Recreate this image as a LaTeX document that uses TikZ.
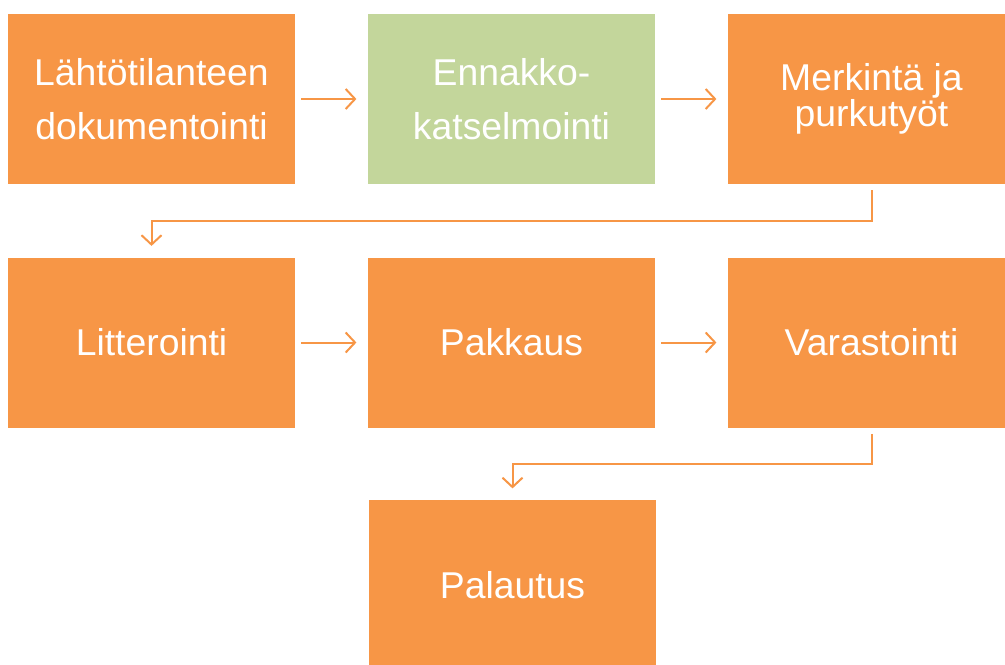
\documentclass[tikz,border=0pt]{standalone}
\usepackage{fontspec}
\setmainfont{Liberation Sans}
\usetikzlibrary{arrows.meta}
\definecolor{stepor}{HTML}{F79646}
\definecolor{stepgr}{HTML}{C3D69B}
\begin{document}
\begin{tikzpicture}[x=0.75pt,y=-0.75pt,
  stepbox/.style={fill=stepor,text=white,minimum width=215.25pt,minimum height=127.5pt,
    inner sep=0pt,align=center,font=\fontsize{28}{41}\selectfont},
  conn/.style={draw=stepor,line width=1.5pt,-{Straight Barb[length=7pt,width=15pt]},
    shorten <=4.5pt,shorten >=8.5pt}]
\useasboundingbox (0,0) rectangle (1005,664);
\clip (0,0) rectangle (1005,664);
% row 1
\node[stepbox] (b1) at (151.5,99) {Lähtötilanteen\\dokumentointi};
\node[stepbox,fill=stepgr] (b2) at (511.5,99) {Ennakko-\\katselmointi};
\node[stepbox,font=\fontsize{28}{23.5}\selectfont] (b3) at (871.5,99) {Merkintä ja\\purkutyöt};
% row 2
\node[stepbox] (b4) at (151.5,342.5) {Litterointi};
\node[stepbox] (b5) at (511.5,342.5) {Pakkaus};
\node[stepbox] (b6) at (871.5,342.5) {Varastointi};
% row 3
\node[stepbox] (b7) at (512.5,585) {Palautus};
% connectors
\draw[conn] (b1) -- (b2);
\draw[conn] (b2) -- (b3);
\draw[conn] (b3.south) -- ++(0,37) -| (b4.north);
\draw[conn] (b4) -- (b5);
\draw[conn] (b5) -- (b6);
\draw[conn] (b6.south) -- ++(0,36) -| (b7.north);
\end{tikzpicture}
\end{document}
